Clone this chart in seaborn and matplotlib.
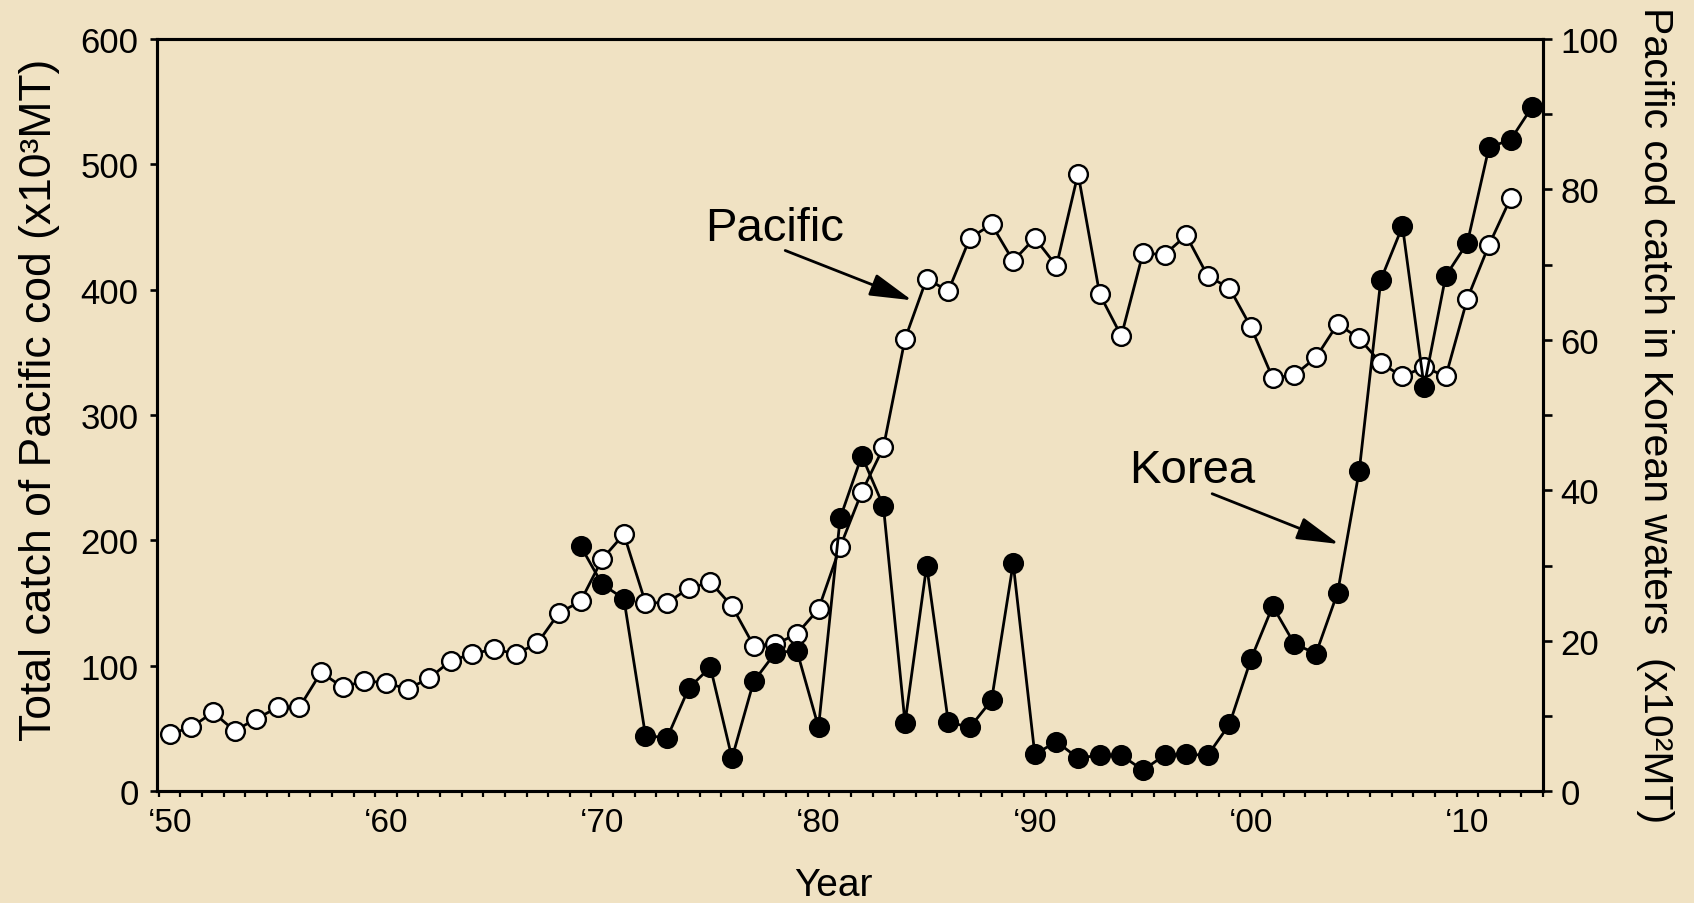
import matplotlib
matplotlib.use("Agg")
import matplotlib.pyplot as plt
import seaborn as sns
from matplotlib.ticker import FixedLocator

# ---------------- data ----------------
pacific_years = list(range(1950, 2013))
pacific_catch = [45.7, 51.0, 63.0, 48.3, 57.7, 67.0, 67.0, 94.9, 82.9, 88.2,
                 86.4, 81.6, 90.1, 104.2, 109.5, 113.5, 109.5, 118.0, 142.2, 151.5,
                 185.3, 205.0, 150.3, 150.3, 161.8, 166.8, 147.6, 116.2, 117.2, 125.5,
                 145.3, 194.9, 238.6, 274.2, 360.8, 408.8, 398.9, 441.2, 452.1, 423.0,
                 441.2, 419.0, 492.6, 396.4, 363.1, 429.2, 428.0, 443.3, 410.8, 401.3,
                 370.0, 329.6, 331.9, 346.0, 372.7, 361.2, 341.4, 330.8, 338.4, 330.8,
                 392.9, 435.7, 473.0]

korea_years = list(range(1969, 2014))
korea_catch = [32.6, 27.5, 25.6, 7.4, 7.1, 13.7, 16.5, 4.4, 14.6, 18.4,
               18.7, 8.5, 36.3, 44.6, 37.9, 9.1, 30.0, 9.2, 8.5, 12.1,
               30.3, 4.9, 6.6, 4.4, 4.8, 4.8, 2.8, 4.8, 4.9, 4.8,
               8.9, 17.6, 24.6, 19.6, 18.3, 26.4, 42.6, 68.0, 75.1, 53.8,
               68.5, 72.9, 85.6, 86.6, 91.0]

decade_ticks = [1950, 1960, 1970, 1980, 1990, 2000, 2010]
decade_labels = ["\u201850", "\u201860", "\u201870", "\u201880", "\u201890", "\u201800", "\u201810"]
left_ticks = [0, 100, 200, 300, 400, 500, 600]
right_ticks = [0, 20, 40, 60, 80, 100]
right_minor = [10, 30, 50, 70, 90]

# ---------------- style ----------------
sns.set_style("ticks")
plt.rcParams["font.family"] = ["Liberation Sans", "DejaVu Sans"]
plt.rcParams["text.color"] = "black"
plt.rcParams["axes.labelcolor"] = "black"
plt.rcParams["xtick.color"] = "black"
plt.rcParams["ytick.color"] = "black"
BG = "#F0E2C3"

fig = plt.figure(figsize=(16.94, 9.04), dpi=100)
fig.patch.set_facecolor(BG)
ax = fig.add_axes([0.0925, 0.1236, 0.8184, 0.8322])
ax.set_facecolor(BG)
ax2 = ax.twinx()
ax2.patch.set_visible(False)

line_kw = dict(color="black", linewidth=2.0, marker="o", markersize=13.5,
               markeredgecolor="black", markeredgewidth=1.7)

sns.lineplot(x=pacific_years, y=pacific_catch, ax=ax, markerfacecolor="white", **line_kw)
sns.lineplot(x=korea_years, y=korea_catch, ax=ax2, markerfacecolor="black", **line_kw)
for ln in ax.lines:
    ln.set_markerfacecolor("white")
    ln.set_markeredgecolor("black")
for ln in ax2.lines:
    ln.set_markerfacecolor("black")
    ln.set_markeredgecolor("black")

# axes limits
ax.set_xlim(1949.4, 2013.5)
ax.set_ylim(0, 600)
ax2.set_ylim(0, 100)

# x ticks
ax.set_xticks(decade_ticks)
ax.set_xticklabels(decade_labels)
ax.xaxis.set_minor_locator(FixedLocator([y + 0.5 for y in range(1949, 2014)]))
ax.tick_params(axis="x", which="major", length=0, labelsize=24, pad=11)
ax.tick_params(axis="x", which="minor", length=4.5, width=1.6, direction="out")
ax.xaxis.set_ticks_position("bottom")

# left y ticks
ax.set_yticks(left_ticks)
ax.tick_params(axis="y", which="major", length=5, width=1.9, labelsize=25,
               direction="out", pad=8)
ax.yaxis.set_ticks_position("left")

# right y ticks
ax2.set_yticks(right_ticks)
ax2.yaxis.set_minor_locator(FixedLocator(right_minor))
ax2.tick_params(axis="y", which="major", length=6.5, width=1.9, labelsize=25,
                direction="out", pad=6)
ax2.tick_params(axis="y", which="minor", length=6.5, width=1.9, direction="out")

for a in (ax, ax2):
    for s in a.spines.values():
        s.set_visible(True)
        s.set_linewidth(2.2)
        s.set_color("black")

# labels
ax.set_xlabel("Year", fontsize=28)
ax.xaxis.set_label_coords(0.488, -0.1245)
ax.xaxis.label.set_va("center")

ax.set_ylabel("Total catch of Pacific cod (x10\u00b3MT)", fontsize=32)
ax.yaxis.set_label_coords(-0.0842, 0.521)
ax.yaxis.label.set_va("center")

ax2.set_ylabel("Pacific cod catch in Korean waters  (x10\u00b2MT)", fontsize=29.5,
               rotation=-90)
ax2.yaxis.set_label_coords(1.0808, 0.5015)
ax2.yaxis.label.set_va("center")

# annotations
arrow_kw = dict(arrowstyle="-|>,head_length=1.3,head_width=0.35",
                color="black", lw=2.0, shrinkA=0, shrinkB=0, mutation_scale=20)
ax.text(1977.95, 449.3, "Pacific", fontsize=34, ha="center", va="center")
ax.annotate("", xy=(1984.32, 391.6), xytext=(1978.46, 431.3), arrowprops=arrow_kw)
ax.text(1997.3, 256.3, "Korea", fontsize=34, ha="center", va="center")
ax.annotate("", xy=(2004.06, 197.2), xytext=(1998.2, 237.3), arrowprops=arrow_kw)

fig.savefig("out.png", dpi=100, facecolor=BG)
